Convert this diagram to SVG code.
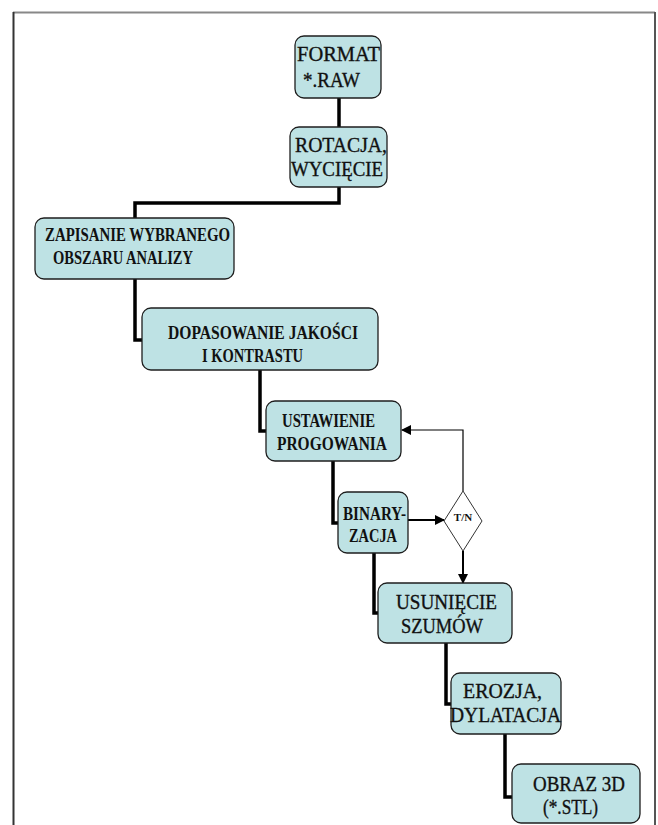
<svg xmlns="http://www.w3.org/2000/svg" width="658" height="825" viewBox="0 0 658 825">
<style>
.box{fill:#bee2e4;stroke:#1e1e1e;stroke-width:1.3}
.t{font-family:"Liberation Serif","Times New Roman",serif;font-size:21px;fill:#111;stroke:#111;stroke-width:0.35}
.tb{font-family:"Liberation Serif","Times New Roman",serif;font-size:18.5px;font-weight:bold;fill:#111}
.c{fill:none;stroke:#000;stroke-width:3.5}
.a{fill:none;stroke:#000;stroke-width:2}
.a1{fill:none;stroke:#000;stroke-width:1.2}
</style>
<defs>
<marker id="ah" viewBox="0 0 10 10" refX="9" refY="5" markerWidth="10" markerHeight="10" markerUnits="userSpaceOnUse" orient="auto">
<path d="M0,0 L10,5 L0,10 z" fill="#000"/>
</marker>
</defs>
<rect width="658" height="825" fill="#fff"/>
<g id="frame">
<line x1="13" y1="12.5" x2="655" y2="12.5" stroke="#888" stroke-width="2"/>
<line x1="13.5" y1="12" x2="13.5" y2="825" stroke="#333" stroke-width="2"/>
<line x1="655" y1="12" x2="655" y2="825" stroke="#555" stroke-width="2"/>
</g>
<g id="connectors">
<path class="c" d="M339,98 V127"/>
<path class="c" d="M339,187 V203 H135 V218"/>
<path class="c" d="M135,279 V340 H142"/>
<path class="c" d="M260,370 V431 H266"/>
<path class="c" d="M333,461 V523 H338"/>
<path class="c" d="M374,553 V613 H378"/>
<path class="c" d="M446,643 V704 H451"/>
<path class="c" d="M505,734 V797 H512"/>
<path class="a" d="M408,520 H444" marker-end="url(#ah)"/>
<path class="a1" d="M463,491 V430 H402" marker-end="url(#ah)"/>
<path class="a" d="M463,551 V583" marker-end="url(#ah)"/>
</g>
<g id="n1"><rect class="box" x="295" y="36" width="86" height="62" rx="9"/>
<text class="t" x="297" y="61" textLength="83" lengthAdjust="spacingAndGlyphs">FORMAT</text>
<text class="t" x="303" y="87" textLength="57" lengthAdjust="spacingAndGlyphs">*.RAW</text></g>
<g id="n2"><rect class="box" x="290" y="127" width="97" height="60" rx="9"/>
<text class="t" x="295" y="152" textLength="92" lengthAdjust="spacingAndGlyphs">ROTACJA,</text>
<text class="t" x="291" y="176" textLength="92" lengthAdjust="spacingAndGlyphs">WYCIĘCIE</text></g>
<g id="n3"><rect class="box" x="35" y="218" width="199" height="61" rx="9"/>
<text class="tb" x="45" y="241" textLength="185" lengthAdjust="spacingAndGlyphs">ZAPISANIE WYBRANEGO</text>
<text class="tb" x="53" y="264" textLength="140" lengthAdjust="spacingAndGlyphs">OBSZARU ANALIZY</text></g>
<g id="n4"><rect class="box" x="142" y="308" width="236" height="62" rx="9"/>
<text class="tb" x="168" y="339" textLength="190" lengthAdjust="spacingAndGlyphs">DOPASOWANIE JAKOŚCI</text>
<text class="tb" x="202" y="362" textLength="101" lengthAdjust="spacingAndGlyphs">I KONTRASTU</text></g>
<g id="n5"><rect class="box" x="266" y="401" width="135" height="60" rx="9"/>
<text class="tb" x="282" y="427" textLength="93" lengthAdjust="spacingAndGlyphs">USTAWIENIE</text>
<text class="tb" x="277" y="450" textLength="110" lengthAdjust="spacingAndGlyphs">PROGOWANIA</text></g>
<g id="n6"><rect class="box" x="338" y="492" width="70" height="61" rx="9"/>
<text class="tb" x="343" y="520" textLength="63" lengthAdjust="spacingAndGlyphs">BINARY-</text>
<text class="tb" x="349" y="542" textLength="48" lengthAdjust="spacingAndGlyphs">ZACJA</text></g>
<g id="n7"><polygon points="463,491 482,521 463,551 444,521" fill="#fff" stroke="#333" stroke-width="1"/>
<text x="463" y="521" text-anchor="middle" font-family="Liberation Serif, serif" font-size="11" font-weight="bold" fill="#111">T/N</text></g>
<g id="n8"><rect class="box" x="378" y="583" width="134" height="60" rx="9"/>
<text class="t" x="396" y="609" textLength="101" lengthAdjust="spacingAndGlyphs">USUNIĘCIE</text>
<text class="t" x="401" y="633" textLength="82" lengthAdjust="spacingAndGlyphs">SZUMÓW</text></g>
<g id="n9"><rect class="box" x="451" y="673" width="110" height="61" rx="9"/>
<text class="t" x="463" y="698" textLength="79" lengthAdjust="spacingAndGlyphs">EROZJA,</text>
<text class="t" x="450" y="722" textLength="111" lengthAdjust="spacingAndGlyphs">DYLATACJA</text></g>
<g id="n10"><rect class="box" x="512" y="764" width="128" height="59" rx="9"/>
<text class="t" x="533" y="791" textLength="92" lengthAdjust="spacingAndGlyphs">OBRAZ 3D</text>
<text class="t" x="543" y="814" textLength="55" lengthAdjust="spacingAndGlyphs">(*.STL)</text></g>
</svg>
